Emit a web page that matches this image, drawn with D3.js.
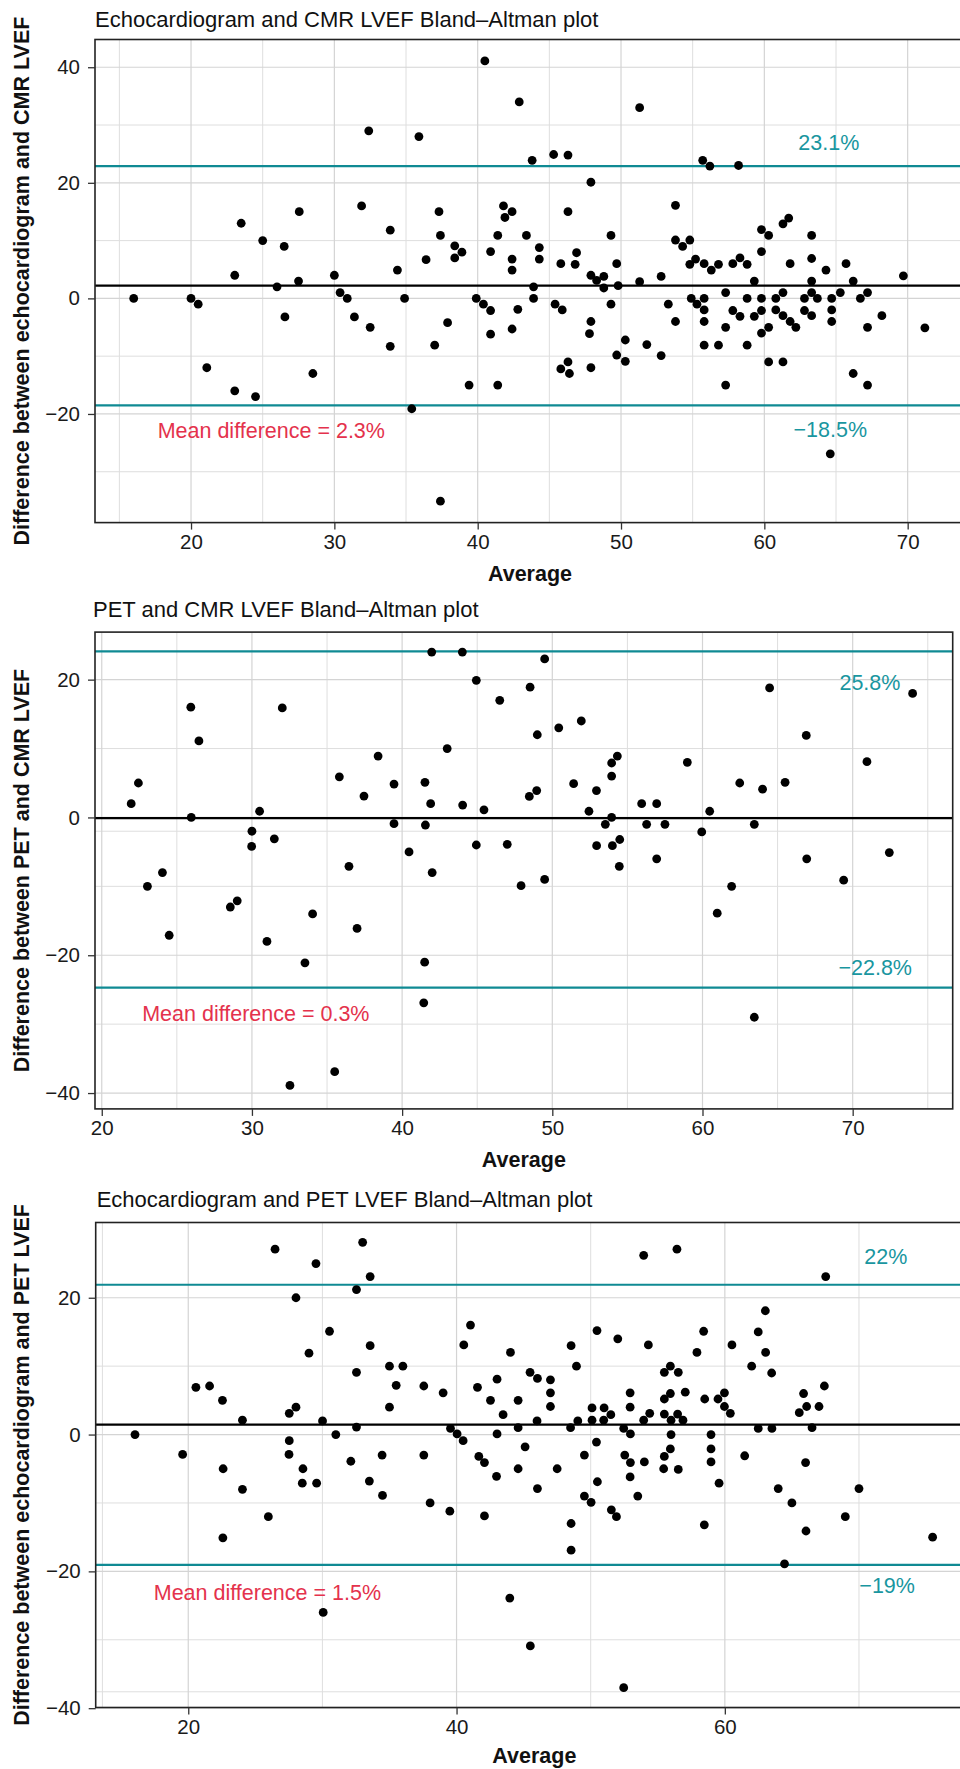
<!DOCTYPE html>
<html lang="en">
    <head>
        <meta charset="utf-8">
        <title>Bland-Altman plots</title>
        <script type="text/javascript" src="https://cdn.jsdelivr.net/npm/d3@7"></script>
        <style type="text/css">
            body { margin: 0; background: #fff; }
            svg text { font-family: "Liberation Sans", Arial, sans-serif; }
            .axis path { display: none; }
            .axis line { stroke: #333; stroke-width: 1.3; }
            .axis text { font-size: 20.5px; fill: #1a1a1a; }
            .grid-major { stroke: #d4d4d4; stroke-width: 1.2; }
            .grid-minor { stroke: #dedede; stroke-width: 1; }
            .title { font-size: 22px; fill: #111; }
            .axis-title { font-size: 21.5px; font-weight: bold; fill: #111; }
        </style>
    </head>

    <body>
        <script type="text/javascript">
            var w = 960;
            var h = 1769;

            // ---- Echocardiogram vs CMR ----
            var echoCmrAverage = [16.0, 20.0, 20.5, 21.1, 23.05, 23.05, 23.5, 24.5, 25.0, 26.0, 26.5, 26.55, 27.5, 27.55, 28.5,
                30.0, 30.4, 30.9, 31.4, 31.9, 32.4, 32.5, 33.9, 33.9, 34.4, 34.9, 35.4, 35.9, 36.4, 37.0, 37.3, 37.4, 37.4, 37.9,
                38.4, 38.4, 38.9, 39.4, 39.9, 40.4, 40.5, 40.9, 40.9, 40.9, 41.4, 41.4, 41.8, 41.9, 42.4, 42.4, 42.4, 42.4, 42.8,
                42.9, 43.4, 43.8, 43.9, 43.9, 44.3, 44.3, 45.3, 45.4, 45.8, 45.9, 45.8, 46.3, 46.3, 46.3, 46.4, 46.8, 46.9, 47.9,
                47.9, 47.9, 47.8, 47.9, 48.3, 48.8, 48.8, 49.3, 49.3, 49.7, 49.8, 49.7, 50.3, 50.3, 51.3, 51.3, 51.8,
                52.8, 52.8, 53.3, 53.8, 53.8, 53.8, 54.3, 54.8, 54.8, 54.9, 55.2, 55.3, 55.7, 55.8, 55.8, 55.8, 55.8, 55.8, 56.2,
                56.3, 56.8, 56.8, 57.3, 57.3, 57.3, 57.8, 57.8, 58.2, 58.3, 58.3, 58.8, 58.8, 58.8, 59.3, 59.3, 59.8, 59.8, 59.8,
                59.8, 59.8, 60.3, 60.3, 60.3, 60.8, 60.8, 61.3, 61.3, 61.3, 61.3, 61.7, 61.8, 61.8, 62.2, 62.8, 62.8, 63.3, 63.3,
                63.3, 63.3, 63.3, 63.7, 64.3, 64.6, 64.7, 64.7, 64.7, 65.3, 65.7, 66.2, 66.2, 66.7, 67.2, 67.2, 67.2, 68.2, 69.7, 71.2];
            var echoCmrDifference = [0, 0, -1, -12, 4, -16, 13, -17, 10, 2, 9, -3.2, 3, 15, -13,
                4, 1, 0, -3.2, 16, 29, -5, 11.8, -8.3, 4.9, 0, -19.1, 28, 6.7, -8.1, 15, -35.1, 10.9, -4.2,
                9.1, 7, 8, -15, 0, -1, 41.1, -2.1, -6.2, 8.1, 10.9, -15, 16, 14, 15, 6.8, 4.9, -5.3, -1.9,
                34, 10.9, 23.9, 2, 0, 8.8, 6.8, 24.9, -1, 6, -2, -12.2, 24.8, 15, -11, -13, 5.9, 7.9, 20.1,
                4, -4, -6.1, -12, 3.1, 3.8, 1.8, 10.9, -1, 6, 2.2, -9.8, -7.2, -10.9, 2.9, 33, -8,
                3.8, -9.9, -1, 16.1, 10.1, -4, 9, 10.1, 5.9, 0, 6.8, -1, 23.9, 6, 0, -2, -4, -8.1, 22.9,
                4.9, 5.9, -8.1, 1, -5, -15, 6, -2.1, 23, 7, -3.1, 5.9, 0, -8.1, 3, -3.1, 11.9, 8.1, 0,
                -2.1, -6, 10.9, -5, -11, 0, -2, 12.9, 1, -3, -11, 13.9, 6, -4, -5, 0, -2.1, 10.9, 6.9,
                3, 1, -3, 0, 4.9, -26.9, 0, -2, -4, 1, 6, 3, -13, 0, 1, -5, -15, -3, 3.9, -5.1];

            // ---- PET vs CMR ----
            var petCmrAverage = [21.96, 22.44, 23.04, 24.04, 24.49, 25.93, 25.96, 26.47, 28.56, 29.02, 30.0, 29.98, 30.51, 31.0,
                31.49, 32.02, 32.53, 33.53, 34.04, 35.51, 35.82,
                36.46, 37.0, 37.46, 38.4, 39.46, 39.46, 40.46, 41.52, 41.55, 41.5, 41.44, 41.9, 41.97, 42.0, 43.0, 44.01, 44.03,
                44.94, 44.94, 45.45, 46.5, 47.0, 47.92, 48.47, 48.52, 48.96, 49.0, 49.49, 49.49, 50.43, 51.42, 51.93, 52.44, 52.94,
                52.95, 53.53, 53.95, 53.95, 53.95, 54.0, 54.33, 54.49, 54.46, 55.95, 56.28,
                56.95, 56.95, 57.5, 58.99, 59.95, 60.48, 60.98, 61.94, 62.48, 63.45, 63.45, 64.0, 64.47, 65.5, 66.91, 66.94, 69.4,
                70.95, 72.44, 73.99];
            var petCmrDifference = [2, 5, -10, -8, -17.1, 16, 0, 11.1, -13, -12.1, -2, -4.2, 0.9, -18,
                -3.1, 15.9, -38.9, -21.1, -14, -36.9, 5.9,
                -7.1, -16.1, 3.1, 8.9, 4.85, -0.9, -5, 5.1, -1.1, -21, -26.9, 2, 24, -8, 10, 24, 1.8,
                19.9, -4, 1.1, 17, -3.9, -9.9, 3.05, 18.9, 3.9, 12, 23, -9, 13, 4.9, 14, 0.9, 3.9,
                -4.1, -1, 6, 7.9, 0, -4.1, 8.9, -3.2, -7.1, 2, -1,
                2, -6, -1, 8, -2.1, 0.9, -13.9, -10, 5, -1, -29, 4.1, 18.8, 5.1, 11.9, -6, -9.1,
                8.1, -5.1, 18];

            // ---- Echocardiogram vs PET ----
            var echoPetAverage = [16.03, 19.58, 20.57, 21.59, 22.55, 22.6, 22.58, 24.04, 24.04, 25.97, 26.47, 27.53, 27.53, 27.51,
                28.03, 28.03, 28.55, 28.5, 29.0, 29.52, 29.57, 30.01, 30.06, 30.53, 31.0,
                32.12, 32.54, 32.54, 32.54, 33.0, 33.5, 33.56, 33.56, 34.45, 34.48, 35.0, 35.0, 35.5, 36.0, 37.56, 37.56, 38.03,
                39.0, 39.5, 39.55, 40.04, 40.49, 40.54, 41.04, 41.56, 41.66, 42.08, 42.08, 42.53, 43.02, 43.02, 42.98, 43.47,
                44.02, 43.97, 44.59, 44.59, 44.59, 45.11, 45.48, 45.5, 46.03, 46.0, 46.03, 47.0, 47.0, 47.0, 47.5, 48.54, 48.5,
                48.54, 48.54, 48.94, 49.04, 49.53, 49.53, 50.03, 50.1, 50.1, 50.43, 50.47, 50.5, 51.0, 50.97, 51.5, 51.54, 51.92,
                52.02, 52.46, 52.46, 52.54, 52.94, 52.94, 52.96, 52.96, 52.94, 53.51, 53.95, 53.95, 54.0, 54.3, 54.4,
                55.49, 55.49, 55.49, 55.49, 55.44, 55.94, 55.94, 55.99, 55.99, 55.94, 56.43, 56.53, 56.48, 56.53, 56.88, 57.05,
                57.92, 58.42, 58.5, 58.47, 58.97, 58.97, 58.97, 59.49, 59.57, 59.97, 59.97, 60.41, 60.53, 61.48, 62.0, 62.49,
                62.49, 63.02, 63.04, 63.49, 63.51, 63.98, 64.45, 65.0, 65.55, 65.87, 66.02, 66.05, 66.1, 66.5, 67.02, 67.42,
                67.52, 68.98, 70.0, 75.49];
            var echoPetDifference = [0, -2.9, 6.9, 7.1, 5, -5, -15.1, 2.1, -8, -12, 27.1, 3.1, -0.9, -2.9,
                20, 4, -5, -7.1, 11.9, 25, -7.1, 2, -26, 15.1, 0,
                -3.9, 21.2, 9.1, 1.1, 28.1, -6.8, 23.1, 13, -3, -8.9, 10, 4, 7.2, 10, 7.1, -3, -10,
                6.1, -11.2, 0.9, 0.1, -0.9, 13.1, 16, 6.9, -3.2, -4.1, -11.9, 5, 8.1, 0.1, -6.1, 2.9,
                12, -23.9, 5, 1, -5, -1.8, 9.1, -30.9, 8.2, 2, -7.9, 8, 6.1, 4.1, -5, 13, 1,
                -13, -16.9, 10, 2, -3, -9, -9.9, 2.1, 3.9, -1.1, 15.2, -6.9, 3.9, 2.1, 2.9, -11, -12,
                14, 0.9, -37, -3, 6.1, 4, 0.1, -4.1, -6.2, -9, 26.2, 2.1, -4, 13.1, 3.1,
                9.1, 5.2, 3, -3.2, -5, 10, 6, 2.1, 0, -2.1, 27.1, 9.1, 3, -5.1, 2.1, 6.2,
                12, 15.1, 5.2, -13.2, 0, -2.1, -4, 5.2, -7.1, 6.1, 4.1, 3.1, 13.1, -3.1, 10, 15,
                0.9, 18.1, 12, 9, 0.9, -7.9, -18.9, -10, 3.2, 6, -4.1, -14.1, 4.1, 1, 4.1, 7.1,
                23.1, -12, -7.9, -15];

            // Reference lines [mean, upper limit, lower limit] and their printed labels
            var echoCmrLines = [2.2, 22.9, -18.5];
            var petCmrLines = [-0.1, 24.1, -24.7];
            var echoPetLines = [1.45, 21.9, -19.05];
            var echoCmrLabels = ["Mean difference = 2.3%", "23.1%", "\u221218.5%"];
            var petCmrLabels = ["Mean difference = 0.3%", "25.8%", "\u221222.8%"];
            var echoPetLabels = ["Mean difference = 1.5%", "22%", "\u221219%"];

            // Axis limits and breaks
            var echoCmrXDomain = [13.3, 74.0], echoCmrYDomain = [-38.8, 44.8];
            var petCmrXDomain = [19.55, 76.66], petCmrYDomain = [-42.3, 26.9];
            var echoPetXDomain = [13.1, 78.5], echoPetYDomain = [-39.9, 31.0];
            var echoCmrXTicks = [20, 30, 40, 50, 60, 70], echoCmrXMinor = [15, 25, 35, 45, 55, 65];
            var echoCmrYTicks = [-20, 0, 20, 40], echoCmrYMinor = [-30, -10, 10, 30];
            var petCmrXTicks = [20, 30, 40, 50, 60, 70], petCmrXMinor = [25, 35, 45, 55, 65, 75];
            var petCmrYTicks = [-40, -20, 0, 20], petCmrYMinor = [-30, -10, -2, 10];
            var echoPetXTicks = [20, 40, 60], echoPetXMinor = [13.6, 30, 50, 70];
            var echoPetYTicks = [-40, -20, 0, 20], echoPetYMinor = [-37.6, -30, -10, 10];

            var svg = d3.select("body")
                        .append("svg")
                        .attr("width", w)
                        .attr("height", h);

            // one Bland-Altman panel
            function drawPanel(p) {
                var xScale = d3.scaleLinear().domain(p.xDomain).range([p.left, p.right]);
                var yScale = d3.scaleLinear().domain(p.yDomain).range([p.bottom, p.top]);
                var g = svg.append("g");

                var points = p.avg.map(function(d, i){ return [d, p.diff[i]]; });

                // grid
                g.selectAll(".vminor").data(p.xMinor).enter().append("line")
                    .attr("class", "grid-minor")
                    .attr("x1", function(d){ return xScale(d); }).attr("x2", function(d){ return xScale(d); })
                    .attr("y1", p.top).attr("y2", p.bottom);
                g.selectAll(".hminor").data(p.yMinor).enter().append("line")
                    .attr("class", "grid-minor")
                    .attr("y1", function(d){ return yScale(d); }).attr("y2", function(d){ return yScale(d); })
                    .attr("x1", p.left).attr("x2", p.right);
                g.selectAll(".vmajor").data(p.xTicks).enter().append("line")
                    .attr("class", "grid-major")
                    .attr("x1", function(d){ return xScale(d); }).attr("x2", function(d){ return xScale(d); })
                    .attr("y1", p.top).attr("y2", p.bottom);
                g.selectAll(".hmajor").data(p.yTicks).enter().append("line")
                    .attr("class", "grid-major")
                    .attr("y1", function(d){ return yScale(d); }).attr("y2", function(d){ return yScale(d); })
                    .attr("x1", p.left).attr("x2", p.right);

                // mean + limits of agreement
                g.selectAll(".refline").data(p.lines).enter().append("line")
                    .attr("x1", p.left).attr("x2", p.right)
                    .attr("y1", function(d){ return yScale(d); }).attr("y2", function(d){ return yScale(d); })
                    .attr("stroke", function(d, i){ return i === 0 ? "#000" : "#0f8a93"; })
                    .attr("stroke-width", 2.2);

                // points
                g.selectAll("circle").data(points).enter().append("circle")
                    .attr("cx", function(d){ return xScale(d[0]); })
                    .attr("cy", function(d){ return yScale(d[1]); })
                    .attr("r", 4.4)
                    .attr("fill", "#000");

                // annotations
                g.selectAll(".note").data(p.labels).enter().append("text")
                    .attr("x", function(d, i){ return xScale(p.labelPos[i][0]); })
                    .attr("y", function(d, i){ return yScale(p.labelPos[i][1]); })
                    .attr("dy", "0.35em")
                    .attr("text-anchor", "middle")
                    .attr("font-size", 21.5)
                    .attr("fill", function(d, i){ return i === 0 ? "#e4324c" : "#1996a0"; })
                    .text(function(d){ return d; });

                // border
                g.append("rect")
                    .attr("x", p.left).attr("y", p.top)
                    .attr("width", p.right - p.left).attr("height", p.bottom - p.top)
                    .attr("fill", "none").attr("stroke", "#222").attr("stroke-width", 1.6);

                // axes
                g.append("g")
                    .attr("class", "axis")
                    .attr("transform", "translate(0," + p.bottom + ")")
                    .call(d3.axisBottom(xScale).tickValues(p.xTicks).tickSize(7).tickPadding(5));
                g.append("g")
                    .attr("class", "axis")
                    .attr("transform", "translate(" + p.left + ",0)")
                    .call(d3.axisLeft(yScale).tickValues(p.yTicks).tickSize(7).tickPadding(8));

                // titles
                g.append("text").attr("class", "title")
                    .attr("x", p.titleX).attr("y", p.titleY).attr("dy", "0.35em")
                    .text(p.title);
                g.append("text").attr("class", "axis-title")
                    .attr("x", (p.left + p.right) / 2).attr("y", p.bottom + p.xTitleGap).attr("dy", "0.35em")
                    .attr("text-anchor", "middle")
                    .text("Average");
                g.append("text").attr("class", "axis-title")
                    .attr("transform", "translate(21," + ((p.top + p.bottom) / 2) + ") rotate(-90)")
                    .attr("dy", "0.35em")
                    .attr("text-anchor", "middle")
                    .text(p.yTitle);
            }

            drawPanel({
                avg: echoCmrAverage, diff: echoCmrDifference,
                lines: echoCmrLines, labels: echoCmrLabels,
                labelPos: [[25.6, -22.9], [64.5, 26.9], [64.6, -22.6]],
                xDomain: echoCmrXDomain, yDomain: echoCmrYDomain,
                xTicks: echoCmrXTicks, xMinor: echoCmrXMinor, yTicks: echoCmrYTicks, yMinor: echoCmrYMinor,
                left: 95, right: 965, top: 39.5, bottom: 522.6, xTitleGap: 50.5,
                titleX: 95, titleY: 19.6,
                title: "Echocardiogram and CMR LVEF Bland\u2013Altman plot",
                yTitle: "Difference between echocardiogram and CMR LVEF"
            });

            drawPanel({
                avg: petCmrAverage, diff: petCmrDifference,
                lines: petCmrLines, labels: petCmrLabels,
                labelPos: [[30.26, -28.5], [71.15, 19.65], [71.5, -21.8]],
                xDomain: petCmrXDomain, yDomain: petCmrYDomain,
                xTicks: petCmrXTicks, xMinor: petCmrXMinor, yTicks: petCmrYTicks, yMinor: petCmrYMinor,
                left: 95, right: 952.7, top: 632.1, bottom: 1108.9, xTitleGap: 50.5,
                titleX: 93, titleY: 609.6,
                title: "PET and CMR LVEF Bland\u2013Altman plot",
                yTitle: "Difference between PET and CMR LVEF"
            });

            drawPanel({
                avg: echoPetAverage, diff: echoPetDifference,
                lines: echoPetLines, labels: echoPetLabels,
                labelPos: [[25.9, -23.1], [72.0, 26.1], [72.1, -22.0]],
                xDomain: echoPetXDomain, yDomain: echoPetYDomain,
                xTicks: echoPetXTicks, xMinor: echoPetXMinor, yTicks: echoPetYTicks, yMinor: echoPetYMinor,
                left: 95.7, right: 973, top: 1222.5, bottom: 1707.5, xTitleGap: 47.5,
                titleX: 96.7, titleY: 1198.8,
                title: "Echocardiogram and PET LVEF Bland\u2013Altman plot",
                yTitle: "Difference between echocardiogram and PET LVEF"
            });
        </script>
    </body>
</html>
